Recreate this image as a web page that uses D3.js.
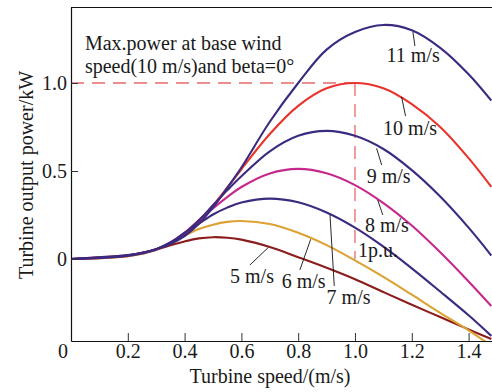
<!DOCTYPE html>
<html>
<head>
<meta charset="utf-8">
<script src="https://cdn.jsdelivr.net/npm/d3@7"></script>
<style>
  html, body { margin: 0; padding: 0; background: #fff; }
  svg { display: block; font-family: "Liberation Serif", "Times New Roman", serif; }
</style>
</head>
<body>
<svg id="chart" width="492" height="392"></svg>
<script>
// Turbine speed (p.u.) sample points shared by every wind-speed curve
const speeds = [0, 0.1, 0.15, 0.2, 0.25, 0.3, 0.35, 0.4, 0.45, 0.5, 0.55, 0.6, 0.7, 0.8, 0.9, 1.0, 1.1, 1.2, 1.3, 1.4, 1.48];

// Turbine output power (kW) at each speed, one array per wind speed
const power5  = [0, 0.004, 0.009, 0.016, 0.030, 0.052, 0.078, 0.100, 0.117, 0.124, 0.121, 0.110, 0.068, 0.010, -0.050, -0.115, -0.188, -0.260, -0.330, -0.400, -0.455];
const power6  = [0, 0.005, 0.010, 0.017, 0.032, 0.055, 0.090, 0.133, 0.170, 0.195, 0.211, 0.216, 0.199, 0.149, 0.079, -0.008, -0.102, -0.203, -0.306, -0.405, -0.493];
const power7  = [0, 0.006, 0.011, 0.018, 0.033, 0.056, 0.094, 0.148, 0.200, 0.253, 0.292, 0.321, 0.343, 0.322, 0.264, 0.178, 0.070, -0.053, -0.185, -0.320, -0.437];
const power8  = [0, 0.007, 0.012, 0.019, 0.034, 0.056, 0.094, 0.150, 0.220, 0.288, 0.352, 0.409, 0.486, 0.512, 0.487, 0.420, 0.318, 0.190, 0.038, -0.128, -0.268];
const power9  = [0, 0.008, 0.013, 0.020, 0.034, 0.056, 0.092, 0.146, 0.220, 0.305, 0.390, 0.470, 0.612, 0.700, 0.728, 0.700, 0.625, 0.505, 0.355, 0.178, 0.020];
const power10 = [0, 0.009, 0.014, 0.021, 0.035, 0.056, 0.088, 0.138, 0.213, 0.304, 0.405, 0.510, 0.710, 0.870, 0.970, 1.000, 0.970, 0.880, 0.750, 0.573, 0.410];
const power11 = [0, 0.010, 0.015, 0.022, 0.035, 0.056, 0.085, 0.130, 0.200, 0.293, 0.404, 0.520, 0.780, 1.000, 1.190, 1.290, 1.330, 1.300, 1.200, 1.050, 0.900];

// Axis ticks
const xTicks = [0, 0.2, 0.4, 0.6, 0.8, 1.0, 1.2, 1.4];
const yTicks = [0, 0.5, 1.0];
const yTickLabels = ["0", "0.5", "1.0"];

// Rated point (1 p.u. speed, 1 kW)
const ratedSpeed = 1.0;
const ratedPower = 1.0;

const purple = "#3b2a80";
const series = [
  { name: "5 m/s",  values: power5,  color: "#8c1d1d" },
  { name: "6 m/s",  values: power6,  color: "#dca233" },
  { name: "8 m/s",  values: power8,  color: "#c6288c" },
  { name: "10 m/s", values: power10, color: "#e8342c" },
  { name: "7 m/s",  values: power7,  color: purple },
  { name: "9 m/s",  values: power9,  color: purple },
  { name: "11 m/s", values: power11, color: purple }
];

// Curve labels: text anchor and leader line, in data units
const curveLabels = [
  { text: "11 m/s", tx: 1.111, ty: 1.121, l: [1.204, 1.290, 1.211, 1.210] },
  { text: "10 m/s", tx: 1.099, ty: 0.705, l: [1.164, 0.922, 1.178, 0.812] },
  { text: "9 m/s",  tx: 1.041, ty: 0.432, l: [1.076, 0.629, 1.094, 0.534] },
  { text: "8 m/s",  tx: 1.035, ty: 0.155, l: [1.080, 0.335, 1.098, 0.250] },
  { text: "7 m/s",  tx: 0.900, ty: -0.256, l: [0.912, 0.250, 0.927, -0.153] },
  { text: "6 m/s",  tx: 0.742, ty: -0.165, l: [0.844, 0.112, 0.806, -0.062] },
  { text: "5 m/s",  tx: 0.560, ty: -0.136, l: [0.695, 0.066, 0.630, -0.034] }
];

const margin = { left: 71, top: 7 };
const pw = 421, ph = 334;

const svg = d3.select("#chart");
const g = svg.append("g").attr("transform", `translate(${margin.left},${margin.top})`);

const x = d3.scaleLinear().domain([0, 1.4824]).range([0, pw]);
const y = d3.scaleLinear().domain([-0.466, 1.432]).range([ph, 0]);

svg.append("defs").append("clipPath").attr("id", "plotClip")
  .append("rect").attr("x", 0).attr("y", 0).attr("width", pw).attr("height", ph);

// Rated-point reference lines
const refColor = "#e8696a";
g.append("line")
  .attr("x1", x(0)).attr("x2", x(ratedSpeed))
  .attr("y1", y(ratedPower)).attr("y2", y(ratedPower))
  .attr("stroke", refColor).attr("stroke-width", 1.3).attr("stroke-dasharray", "13,8");
g.append("line")
  .attr("x1", x(ratedSpeed)).attr("x2", x(ratedSpeed))
  .attr("y1", y(ratedPower)).attr("y2", y(0))
  .attr("stroke", refColor).attr("stroke-width", 1.3).attr("stroke-dasharray", "13,8");

// Power curves
const line = d3.line()
  .x(d => x(d[0]))
  .y(d => y(d[1]))
  .curve(d3.curveCatmullRom.alpha(0.5));

g.append("g").attr("clip-path", "url(#plotClip)")
  .selectAll("path")
  .data(series)
  .join("path")
  .attr("d", s => line(speeds.map((v, i) => [v, s.values[i]])))
  .attr("fill", "none")
  .attr("stroke", s => s.color)
  .attr("stroke-width", 2.1)
  .attr("stroke-linejoin", "round");

// Axes
const xAxis = d3.axisBottom(x)
  .tickValues(xTicks)
  .tickFormat(d => d === 0 ? "0" : d.toFixed(1))
  .tickSizeInner(-8).tickSizeOuter(0).tickPadding(3);
const yAxis = d3.axisLeft(y)
  .tickValues(yTicks)
  .tickFormat((d, i) => yTickLabels[i])
  .tickSizeInner(-7).tickSizeOuter(0).tickPadding(4);

const gx = g.append("g").attr("transform", `translate(0,${ph})`).call(xAxis);
const gy = g.append("g").call(yAxis);

[gx, gy].forEach(a => {
  a.attr("font-family", null).attr("font-size", null);
  a.select(".domain").attr("stroke", "#111").attr("stroke-width", 1.2);
  a.selectAll(".tick line").attr("stroke", "#333").attr("stroke-width", 1);
  a.selectAll(".tick text").attr("fill", "#1a1a1a").style("font-size", "20px");
});
gx.selectAll(".tick").filter(d => d === 0).select("line").remove();
gx.selectAll(".tick").filter(d => d === 0).select("text").attr("dx", -8.5);

// Top frame edge
g.append("line")
  .attr("x1", 0).attr("x2", pw).attr("y1", 0.5).attr("y2", 0.5)
  .attr("stroke", "#111").attr("stroke-width", 1.2);

// Leader lines and curve labels
const ann = g.append("g");
ann.selectAll("line")
  .data(curveLabels)
  .join("line")
  .attr("x1", d => x(d.l[0])).attr("y1", d => y(d.l[1]))
  .attr("x2", d => x(d.l[2])).attr("y2", d => y(d.l[3]))
  .attr("stroke", "#111").attr("stroke-width", 0.9);
ann.selectAll("text")
  .data(curveLabels)
  .join("text")
  .attr("x", d => x(d.tx)).attr("y", d => y(d.ty))
  .attr("fill", "#1a1a1a").style("font-size", "20px")
  .text(d => d.text);

g.append("text")
  .attr("x", x(1.011)).attr("y", y(0.011))
  .attr("fill", "#1a1a1a").style("font-size", "20px")
  .text("1p.u.");

// Note on the rated operating point
const note = g.append("text").attr("fill", "#1a1a1a").style("font-size", "20px");
note.append("tspan").attr("x", x(0.049)).attr("y", y(1.1875)).text("Max.power at base wind");
note.append("tspan").attr("x", x(0.049)).attr("y", y(1.059)).text("speed(10 m/s)and beta=0\u00b0");

// Axis titles
svg.append("text")
  .attr("x", 270).attr("y", 383)
  .attr("text-anchor", "middle")
  .attr("fill", "#1a1a1a").style("font-size", "20px")
  .text("Turbine speed/(m/s)");
svg.append("text")
  .attr("transform", "translate(33,175) rotate(-90)")
  .attr("text-anchor", "middle")
  .attr("fill", "#1a1a1a").style("font-size", "20px")
  .text("Turbine output power/kW");
</script>
</body>
</html>
